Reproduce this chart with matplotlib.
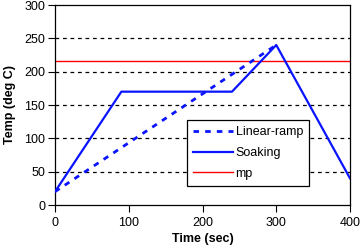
import matplotlib
matplotlib.use("Agg")
import matplotlib.pyplot as plt

plt.rcParams["font.family"] = ["Liberation Sans", "DejaVu Sans"]

# data
ramp_t = [0, 300]
ramp_T = [20, 240]
soak_t = [0, 90, 240, 300, 400]
soak_T = [20, 170, 170, 240, 40]
mp_T = 216
grid_y = [50, 100, 150, 200, 250]

fig = plt.figure(figsize=(3.61, 2.48), dpi=100)
ax = fig.add_axes([55 / 361, 43 / 248, 295 / 361, 200 / 248])

for g in grid_y:
    ax.axhline(g, color="black", ls=(0, (3, 3)), lw=0.9, zorder=1)

ax.plot(ramp_t, ramp_T, color="#0a14ff", ls=(0, (2, 2.2)), lw=2, label="Linear-ramp", zorder=3)
ax.plot(soak_t, soak_T, color="#0a14ff", lw=1.6, label="Soaking", zorder=3)
ax.axhline(mp_T, color="#ff0000", lw=1, label="mp", zorder=2)

ax.set_xlim(0, 400)
ax.set_ylim(0, 300)
ax.set_xticks([0, 100, 200, 300, 400])
ax.set_yticks([0, 50, 100, 150, 200, 250, 300])
ax.tick_params(labelsize=9, length=5, width=0.8, direction="out", pad=2)
ax.tick_params(axis="x", pad=4)
for s in ax.spines.values():
    s.set_linewidth(0.9)
ax.set_xlabel("Time (sec)", fontsize=9, fontweight="bold", labelpad=2.5)
ax.set_ylabel("Temp (deg C)", fontsize=9, fontweight="bold", labelpad=6)

leg = ax.legend(loc="upper left", bbox_to_anchor=(0.447, 0.425, 0.414, 0.0),
                mode="expand", borderaxespad=0, fontsize=9, frameon=True,
                fancybox=False, framealpha=1, edgecolor="black", borderpad=0.5,
                handlelength=3.2, handletextpad=0.2, labelspacing=0.7)
leg.get_frame().set_linewidth(0.9)

fig.savefig("out.png", dpi=100)
